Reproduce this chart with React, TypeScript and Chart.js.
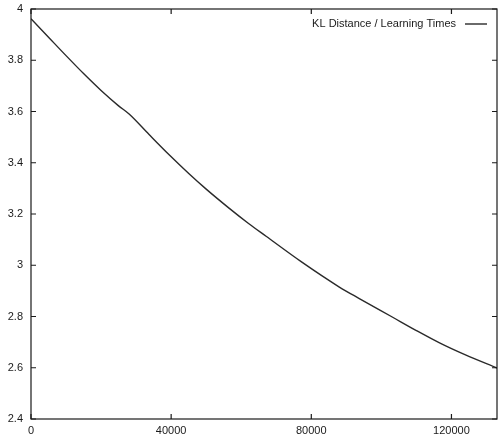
import React, { useEffect, useRef } from "react";
import { Chart, registerables } from "chart.js";

Chart.register(...registerables);

const seriesLabel = "KL Distance / Learning Times";
const learningTimes = [0, 5000, 10000, 15000, 20000, 25000, 28000, 33700, 39500, 45100, 50000, 56600, 62000, 67100, 77000, 88000, 93700, 103100, 110000, 116600, 124000, 133000];
const klDistance = [3.962, 3.89, 3.818, 3.748, 3.682, 3.622, 3.59, 3.51, 3.43, 3.357, 3.297, 3.222, 3.164, 3.113, 3.015, 2.915, 2.87, 2.798, 2.745, 2.697, 2.65, 2.599];
const xTicks = [0, 40000, 80000, 120000];
const yTicks = [2.4, 2.6, 2.8, 3.0, 3.2, 3.4, 3.6, 3.8, 4.0];
const xMin = 0;
const xMax = 133000;
const yMin = 2.4;
const yMax = 4.0;

const FONT = "'Liberation Sans', Arial, sans-serif";
const INK = "#1a1a1a";

const framePlugin = {
  id: "frame",
  afterDatasetsDraw(chart: any) {
    const { ctx, chartArea } = chart;
    const { left, right, top, bottom } = chartArea;
    const xs = chart.scales.x;
    const ys = chart.scales.y;
    ctx.save();
    ctx.strokeStyle = INK;
    ctx.lineWidth = 1.2;
    ctx.strokeRect(left, top, right - left, bottom - top);
    const t = 5;
    ctx.beginPath();
    for (const v of xTicks) {
      const px = xs.getPixelForValue(v);
      ctx.moveTo(px, bottom);
      ctx.lineTo(px, bottom - t);
      ctx.moveTo(px, top);
      ctx.lineTo(px, top + t);
    }
    for (const v of yTicks) {
      const py = ys.getPixelForValue(v);
      ctx.moveTo(left, py);
      ctx.lineTo(left + t, py);
      ctx.moveTo(right, py);
      ctx.lineTo(right - t, py);
    }
    ctx.stroke();
    // legend
    const label = chart.data.datasets[0].label;
    ctx.font = `11px ${FONT}`;
    ctx.fillStyle = INK;
    ctx.textAlign = "right";
    ctx.textBaseline = "middle";
    const lx = right - 41;
    const ly = top + 15;
    ctx.fillText(label, lx, ly);
    ctx.beginPath();
    ctx.lineWidth = 1.3;
    ctx.moveTo(lx + 9, ly);
    ctx.lineTo(lx + 31, ly);
    ctx.stroke();
    ctx.restore();
  },
};

export default function App() {
  const ref = useRef<HTMLCanvasElement | null>(null);
  useEffect(() => {
    if (!ref.current) return;
    const chart = new Chart(ref.current, {
      type: "line",
      data: {
        datasets: [
          {
            label: seriesLabel,
            data: learningTimes.map((x, i) => ({ x, y: klDistance[i] })),
            borderColor: "#2a2a2a",
            borderWidth: 1.4,
            pointRadius: 0,
            cubicInterpolationMode: "monotone",
            fill: false,
          },
        ],
      },
      options: {
        responsive: false,
        animation: false,
        layout: { padding: { top: 9, right: 1, left: 0, bottom: 0 } },
        plugins: { legend: { display: false }, tooltip: { enabled: false } },
        scales: {
          x: {
            type: "linear",
            min: xMin,
            max: xMax,
            afterBuildTicks: (s: any) => {
              s.ticks = xTicks.map((v) => ({ value: v }));
            },
            afterFit: (s: any) => {
              s.height = 21;
              s.paddingLeft = 0;
              s.paddingRight = 0;
            },
            grid: { display: false, drawTicks: false },
            border: { display: false },
            ticks: {
              color: INK,
              font: { family: FONT, size: 11 },
              padding: 5,
              maxRotation: 0,
              autoSkip: false,
              callback: (v: any) => String(v),
            },
          },
          y: {
            type: "linear",
            min: yMin,
            max: yMax,
            afterBuildTicks: (s: any) => {
              s.ticks = yTicks.map((v) => ({ value: v }));
            },
            afterFit: (s: any) => {
              s.width = 31;
              s.paddingTop = 0;
              s.paddingBottom = 0;
            },
            grid: { display: false, drawTicks: false },
            border: { display: false },
            ticks: {
              color: INK,
              font: { family: FONT, size: 11 },
              padding: 8,
              autoSkip: false,
              callback: (v: any) => String(Number(Number(v).toFixed(1))),
            },
          },
        },
      },
      plugins: [framePlugin],
    } as any);
    return () => chart.destroy();
  }, []);
  return (
    <div style={{ position: "fixed", left: 0, top: 0, width: 498, height: 440, background: "#fff" }}>
      <canvas ref={ref} width={498} height={440} style={{ display: "block" }} />
    </div>
  );
}
